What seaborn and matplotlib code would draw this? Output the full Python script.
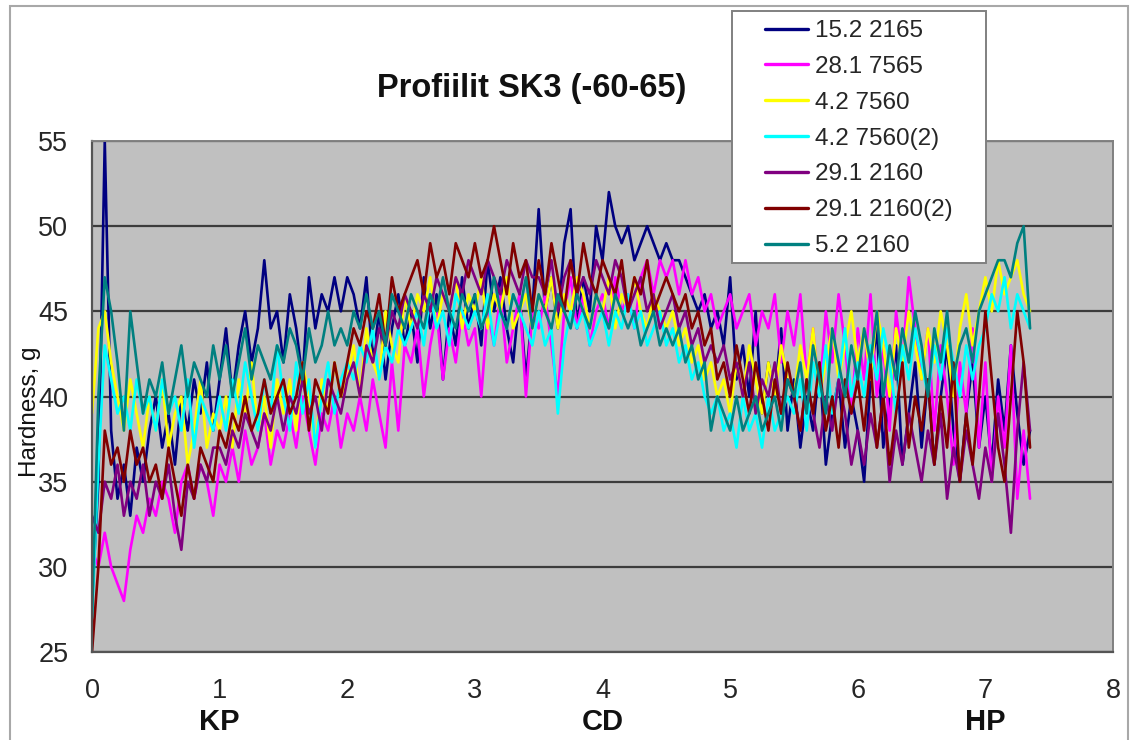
import numpy as np
import pandas as pd
import matplotlib
matplotlib.use("Agg")
import matplotlib.pyplot as plt
import seaborn as sns
from matplotlib.patches import Rectangle

# ---------------- data ----------------
distance = [round(i * 0.05, 2) for i in range(148)]   # 0.00 ... 7.35

series_names = ["15.2 2165", "28.1 7565", "4.2 7560", "4.2 7560(2)",
                "29.1 2160", "29.1 2160(2)", "5.2 2160"]

s_15_2_2165 = [
    28, 35, 55, 38, 34, 36, 33, 37, 35, 38,
    40, 37, 39, 36, 40, 38, 41, 39, 42, 38,
    41, 44, 40, 43, 45, 42, 44, 48, 44, 45,
    42, 46, 44, 41, 47, 44, 46, 45, 47, 45,
    47, 46, 44, 47, 42, 45, 41, 44, 46, 43,
    45, 42, 47, 44, 46, 41, 45, 43, 47, 44,
    46, 43, 48, 45, 47, 44, 42, 46, 41, 45,
    51, 45, 47, 44, 49, 51, 44, 47, 45, 50,
    48, 52, 50, 49, 50, 48, 49, 50, 49, 48,
    49, 48, 48, 47, 46, 45, 46, 44, 45, 43,
    47, 41, 43, 40, 45, 39, 42, 40, 44, 38,
    41, 37, 40, 38, 42, 36, 39, 41, 37, 40,
    38, 35, 41, 44, 37, 40, 43, 36, 39, 42,
    37, 41, 36, 40, 43, 38, 35, 39, 42, 37,
    40, 36, 41, 38, 43, 39, 36, 38]

s_28_1_7565 = [
    31, 30, 32, 30, 29, 28, 31, 33, 32, 34,
    33, 35, 34, 32, 35, 36, 34, 36, 35, 33,
    36, 35, 37, 35, 38, 36, 37, 39, 36, 38,
    37, 39, 37, 40, 38, 36, 39, 38, 40, 37,
    39, 38, 40, 38, 41, 39, 37, 42, 38, 43,
    42, 44, 40, 43, 45, 41, 44, 42, 45, 43,
    44, 40, 45, 43, 46, 42, 44, 46, 40, 45,
    44, 46, 43, 40, 45, 47, 44, 46, 43, 45,
    46, 44, 47, 45, 46, 44, 47, 48, 46, 48,
    47, 48, 46, 48, 46, 47, 45, 46, 44, 45,
    46, 44, 45, 46, 43, 45, 44, 46, 42, 45,
    43, 46, 41, 44, 40, 45, 42, 46, 43, 39,
    44, 41, 46, 40, 43, 38, 45, 42, 47, 44,
    41, 44, 38, 43, 40, 36, 42, 39, 44, 37,
    42, 35, 40, 37, 43, 34, 38, 34]

s_4_2_7560 = [
    39, 44, 45, 42, 40, 38, 41, 39, 37, 40,
    38, 41, 37, 39, 40, 36, 38, 41, 37, 39,
    38, 40, 37, 41, 39, 42, 38, 40, 37, 41,
    39, 41, 38, 42, 40, 37, 41, 39, 42, 40,
    41, 43, 40, 44, 42, 41, 45, 43, 42, 46,
    44, 46, 45, 47, 44, 46, 45, 47, 44, 46,
    45, 47, 44, 46, 45, 47, 44, 45, 46, 44,
    46, 45, 47, 44, 46, 45, 47, 46, 44, 46,
    45, 47, 44, 46, 45, 47, 45, 44, 46, 45,
    44, 45, 43, 44, 42, 43, 41, 42, 40, 41,
    39, 42, 40, 43, 41, 39, 42, 40, 43, 41,
    40, 43, 41, 44, 40, 42, 44, 41, 43, 45,
    42, 44, 41, 45, 43, 40, 44, 42, 45, 43,
    41, 44, 42, 45, 43, 40, 44, 46, 43, 45,
    47, 45, 48, 46, 47, 48, 46, 45]

s_4_2_7560_2 = [
    27, 36, 43, 41, 39, 40, 38, 41, 39, 40,
    38, 41, 39, 40, 38, 41, 37, 40, 39, 38,
    40, 38, 41, 39, 42, 40, 38, 41, 39, 43,
    40, 38, 42, 39, 41, 37, 40, 42, 39, 41,
    42, 41, 43, 42, 44, 41, 43, 42, 44, 43,
    44, 45, 43, 46, 44, 45, 43, 46, 45, 44,
    45, 44, 46, 43, 45, 44, 46, 45, 44, 43,
    45, 43, 44, 39, 43, 45, 44, 45, 43, 44,
    45, 43, 45, 44, 46, 44, 45, 43, 44, 45,
    43, 44, 42, 43, 41, 42, 40, 39, 40, 38,
    39, 37, 40, 38, 39, 37, 40, 38, 39, 40,
    39, 41, 38, 42, 40, 43, 39, 41, 44, 40,
    42, 40, 43, 41, 44, 42, 39, 43, 41, 44,
    42, 40, 43, 41, 44, 42, 40, 43, 41, 43,
    44, 46, 45, 47, 44, 46, 45, 44]

s_29_1_2160 = [
    33, 32, 35, 34, 36, 33, 35, 34, 36, 33,
    35, 34, 36, 33, 31, 35, 34, 36, 35, 37,
    37, 36, 38, 37, 39, 38, 37, 39, 38, 40,
    38, 40, 39, 41, 39, 40, 38, 41, 40, 39,
    41, 42, 40, 43, 42, 44, 43, 45, 44, 46,
    45, 44, 46, 45, 47, 46, 45, 47, 46, 48,
    47, 46, 48, 47, 46, 48, 47, 46, 48, 47,
    47, 46, 48, 45, 47, 48, 46, 47, 46, 48,
    47, 46, 48, 47, 45, 46, 47, 45, 46, 44,
    45, 46, 44, 45, 43, 44, 42, 43, 42, 43,
    41, 42, 40, 42, 39, 41, 40, 42, 39, 41,
    40, 38, 41, 39, 37, 40, 38, 41, 39, 36,
    38, 36, 39, 37, 40, 35, 38, 36, 39, 37,
    35, 38, 36, 39, 34, 37, 35, 38, 36, 34,
    37, 35, 39, 36, 32, 38, 42, 38]

s_29_1_2160_2 = [
    25, 30, 38, 36, 37, 35, 38, 36, 37, 35,
    36, 34, 37, 35, 33, 36, 34, 37, 36, 35,
    38, 37, 39, 38, 40, 38, 39, 41, 39, 40,
    41, 39, 40, 42, 38, 41, 40, 39, 42, 40,
    42, 44, 43, 45, 44, 46, 43, 47, 45, 46,
    47, 48, 46, 49, 47, 48, 46, 49, 48, 47,
    49, 47, 48, 50, 48, 46, 49, 47, 48, 45,
    48, 46, 49, 47, 45, 48, 46, 49, 47, 46,
    48, 47, 46, 48, 45, 47, 46, 48, 45, 46,
    47, 46, 45, 46, 44, 45, 43, 44, 41, 42,
    40, 43, 41, 39, 42, 40, 38, 41, 39, 42,
    40, 38, 41, 39, 42, 38, 40, 37, 41, 39,
    41, 38, 42, 37, 40, 36, 39, 42, 37, 40,
    38, 41, 36, 40, 37, 42, 35, 39, 36, 40,
    45, 41, 37, 35, 40, 45, 42, 37]

s_5_2_2160 = [
    27, 40, 47, 45, 42, 38, 45, 42, 39, 41,
    40, 42, 39, 41, 43, 40, 42, 41, 40, 43,
    41, 43, 40, 42, 44, 41, 43, 42, 41, 43,
    42, 44, 43, 41, 44, 42, 43, 45, 43, 44,
    43, 45, 44, 46, 44, 45, 43, 46, 45, 44,
    46, 45, 44, 46, 45, 47, 45, 44, 46, 45,
    46, 44, 45, 47, 45, 44, 46, 45, 47, 44,
    46, 45, 44, 46, 45, 44, 46, 45, 44, 46,
    45, 44, 46, 45, 44, 45, 43, 44, 45, 43,
    44, 43, 44, 42, 43, 41, 42, 38, 40, 39,
    38, 40, 38, 39, 40, 38, 39, 40, 38, 41,
    40, 42, 39, 43, 41, 39, 44, 42, 40, 43,
    41, 44, 42, 45, 40, 43, 41, 44, 42, 45,
    43, 40, 44, 42, 45, 41, 43, 44, 42, 45,
    46, 47, 48, 48, 47, 49, 50, 44]

x_ticks = [0, 1, 2, 3, 4, 5, 6, 7, 8]
y_ticks = [25, 30, 35, 40, 45, 50, 55]
zone_labels = ["KP", "CD", "HP"]
zone_positions = [1.0, 4.0, 7.0]
title_text = "Profiilit SK3 (-60-65)"
y_label = "Hardness, g"

colors = ["#000080", "#FF00FF", "#FFFF00", "#00FFFF",
          "#800080", "#800000", "#008080"]

# ---------------- build long-form table ----------------
wide = pd.DataFrame({"distance": distance,
                     series_names[0]: s_15_2_2165,
                     series_names[1]: s_28_1_7565,
                     series_names[2]: s_4_2_7560,
                     series_names[3]: s_4_2_7560_2,
                     series_names[4]: s_29_1_2160,
                     series_names[5]: s_29_1_2160_2,
                     series_names[6]: s_5_2_2160})
long = wide.melt(id_vars="distance", var_name="series", value_name="hardness")

# ---------------- plot ----------------
sns.set_style("white")
plt.rcParams["font.family"] = ["Liberation Sans", "DejaVu Sans"]

W, H = 1136, 740
fig = plt.figure(figsize=(W / 100, H / 100), dpi=100)
fig.patch.set_facecolor("white")
ax = fig.add_axes([92 / W, 1 - 652 / H, (1113 - 92) / W, (652 - 141) / H])
ax.set_facecolor("#C0C0C0")

sns.lineplot(data=long, x="distance", y="hardness", hue="series",
             hue_order=series_names, palette=colors, sort=False,
             linewidth=1.9, ax=ax, legend=True)

ax.set_xlim(0, 8)
ax.set_ylim(25, 55)
ax.set_xticks(x_ticks)
ax.set_yticks(y_ticks)
ax.tick_params(axis="both", direction="out", length=6, width=1.2,
               colors="#555555", labelsize=19.5, labelcolor="#262626")
ax.tick_params(axis="x", pad=13)
ax.tick_params(axis="y", pad=11)
ax.yaxis.grid(True, color="#3c3c3c", linewidth=1.6)
ax.xaxis.grid(False)
ax.set_axisbelow(True)
for side in ["left", "bottom"]:
    ax.spines[side].set_color("#555555")
    ax.spines[side].set_linewidth(1.6)
for side in ["top", "right"]:
    ax.spines[side].set_color("#808080")
    ax.spines[side].set_linewidth(1.4)
ax.set_xlabel("")
ax.set_ylabel("")

# title and labels
fig.text(532 / W, 1 - 89 / H, title_text, ha="center", va="center",
         fontsize=23.5, fontweight="bold", color="#111111")
fig.text(30 / W, 1 - 412 / H, y_label, ha="center", va="center",
         rotation=90, fontsize=17.5, color="#111111")
for lab, pos in zip(zone_labels, zone_positions):
    ax.annotate(lab, xy=(pos, 0), xycoords=("data", "figure fraction"),
                xytext=(0, 1 - 722 / H), textcoords=("offset points", "figure fraction"),
                ha="center", va="center", fontsize=21, fontweight="bold",
                color="#111111")

# legend (frame drawn separately to get the wide side padding of the original)
sns.move_legend(ax, loc="upper left",
                bbox_to_anchor=(765 / W, 1 - 20 / H),
                bbox_transform=fig.transFigure,
                title=None, frameon=False,
                fontsize=17.5, handlelength=1.75, handletextpad=0.3,
                labelspacing=0.57, borderpad=0, borderaxespad=0)
leg = ax.get_legend()
leg.set_zorder(6)
for line in leg.get_lines():
    line.set_linewidth(2.4)
ax.add_patch(Rectangle((732 / W, 1 - 263 / H), (986 - 732) / W, (263 - 11) / H,
                       transform=fig.transFigure, clip_on=False, zorder=5,
                       facecolor="white", edgecolor="#808080", linewidth=1.4))

# outer chart-area frame
fig.patches.append(Rectangle((10 / W, -0.02), (1128 - 10) / W, 1 - 6 / H + 0.02,
                             transform=fig.transFigure, fill=False,
                             edgecolor="#A8A8A8", linewidth=1.5))

fig.savefig("out.png", dpi=100, facecolor="white")
